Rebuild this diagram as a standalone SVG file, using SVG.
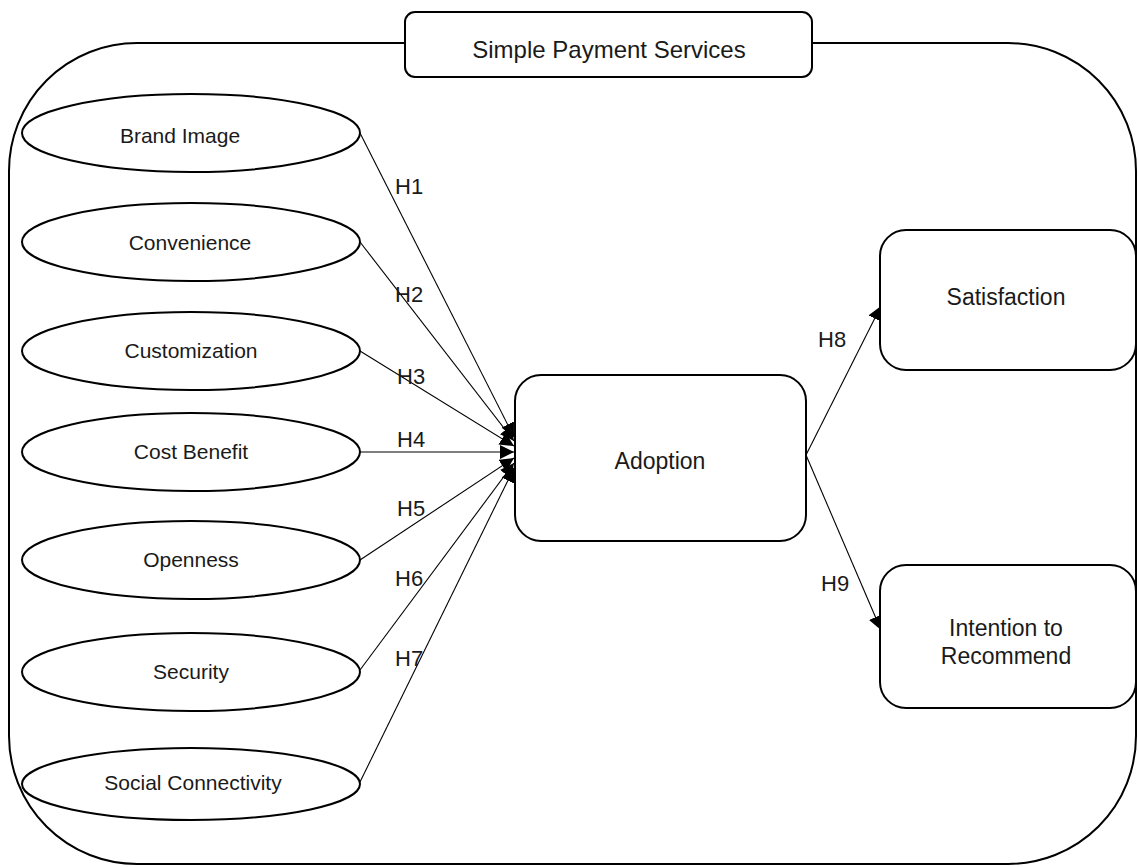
<svg xmlns="http://www.w3.org/2000/svg" width="1138" height="867" viewBox="0 0 1138 867">
<style>
.shape{fill:none;stroke:#000;stroke-width:2}
.box{fill:#fff;stroke:#000;stroke-width:2}
.t{font-family:"Liberation Sans",Arial,sans-serif;fill:#1a1a1a;text-anchor:middle}
.el{font-size:21px}
.lb{font-size:23px}
.h{font-size:22px;text-anchor:start}
.c{fill:none;stroke:#000;stroke-width:1.1}
</style>
<defs>
<marker id="ah" viewBox="0 0 10 10" refX="10" refY="5" markerWidth="14" markerHeight="14" markerUnits="userSpaceOnUse" orient="auto">
<path d="M0,0 L10,5 L0,10 z" fill="#000"/>
</marker>
</defs>
<rect width="1138" height="867" fill="#fff"/>
<g id="container">
<rect class="shape" x="9" y="43" width="1127" height="821" rx="128" ry="128"/>
</g>
<g id="sps">
<rect class="box" x="405" y="12" width="407" height="65" rx="10"/>
<text class="t" style="font-size:24px" x="609" y="58">Simple Payment Services</text>
</g>
<g id="connectors">
<line class="c" x1="360" y1="133" x2="514" y2="437" marker-end="url(#ah)"/>
<line class="c" x1="360" y1="242" x2="514" y2="441" marker-end="url(#ah)"/>
<line class="c" x1="360" y1="351" x2="514" y2="446" marker-end="url(#ah)"/>
<line class="c" x1="360" y1="452" x2="514" y2="452" marker-end="url(#ah)"/>
<line class="c" x1="360" y1="560" x2="514" y2="458" marker-end="url(#ah)"/>
<line class="c" x1="360" y1="670" x2="514" y2="463" marker-end="url(#ah)"/>
<line class="c" x1="360" y1="782" x2="514" y2="468" marker-end="url(#ah)"/>
<line class="c" x1="806" y1="455" x2="881" y2="306" marker-end="url(#ah)"/>
<line class="c" x1="806" y1="455" x2="881" y2="630" marker-end="url(#ah)"/>
<text class="t h" x="395" y="194">H1</text>
<text class="t h" x="395" y="302">H2</text>
<text class="t h" x="397" y="384">H3</text>
<text class="t h" x="397" y="447">H4</text>
<text class="t h" x="397" y="516">H5</text>
<text class="t h" x="395" y="586">H6</text>
<text class="t h" x="395" y="666">H7</text>
<text class="t h" x="818" y="347">H8</text>
<text class="t h" x="821" y="591">H9</text>
</g>
<g id="brand-image">
<ellipse class="shape" cx="191" cy="133" rx="169" ry="39"/>
<text class="t el" x="180" y="143">Brand Image</text>
</g>
<g id="convenience">
<ellipse class="shape" cx="191" cy="242" rx="169" ry="39"/>
<text class="t el" x="190" y="250">Convenience</text>
</g>
<g id="customization">
<ellipse class="shape" cx="191" cy="351" rx="169" ry="39"/>
<text class="t el" x="191" y="358">Customization</text>
</g>
<g id="cost-benefit">
<ellipse class="shape" cx="191" cy="452" rx="169" ry="39"/>
<text class="t el" x="191" y="459">Cost Benefit</text>
</g>
<g id="openness">
<ellipse class="shape" cx="191" cy="560" rx="169" ry="39"/>
<text class="t el" x="191" y="567">Openness</text>
</g>
<g id="security">
<ellipse class="shape" cx="191" cy="672" rx="169" ry="39"/>
<text class="t el" x="191" y="679">Security</text>
</g>
<g id="social-connectivity">
<ellipse class="shape" cx="191" cy="784" rx="169" ry="36"/>
<text class="t el" x="193" y="790">Social Connectivity</text>
</g>
<g id="adoption">
<rect class="box" x="515" y="375" width="291" height="166" rx="26"/>
<text class="t lb" x="660" y="469">Adoption</text>
</g>
<g id="satisfaction">
<rect class="box" x="880" y="230" width="256" height="140" rx="26"/>
<text class="t lb" x="1006" y="305">Satisfaction</text>
</g>
<g id="intention">
<rect class="box" x="880" y="565" width="256" height="143" rx="26"/>
<text class="t lb" x="1006" y="636">Intention to</text>
<text class="t lb" x="1006" y="664">Recommend</text>
</g>
</svg>
